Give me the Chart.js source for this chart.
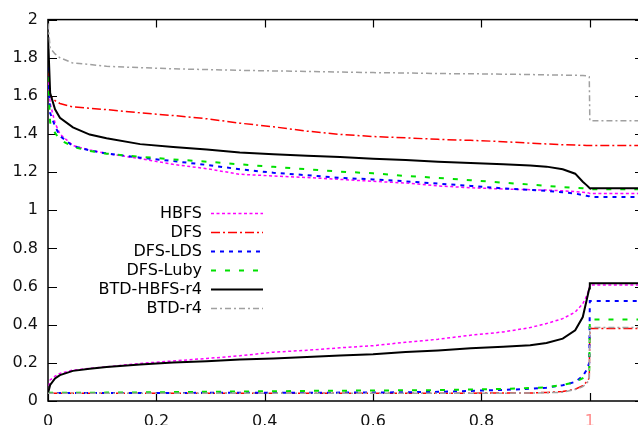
<!DOCTYPE html>
<html>
<head>
<meta charset="utf-8">
<script src="https://cdn.jsdelivr.net/npm/chart.js@4.4.0/dist/chart.umd.min.js"></script>
<style>
html, body { margin:0; padding:0; background:#fff; overflow:hidden; }
#wrap { width:650px; height:440px; }
</style>
</head>
<body>
<div id="wrap"><canvas id="c" width="650" height="440"></canvas></div>
<script>
// shared x positions (fraction of instances)
var xs = [0, 0.004, 0.013, 0.022, 0.046, 0.077, 0.108, 0.17, 0.231, 0.293, 0.354, 0.416, 0.478, 0.539,
	0.6, 0.66, 0.72, 0.78, 0.84, 0.89, 0.92, 0.95, 0.973, 0.987, 0.994, 0.999, 1.0, 1.1];

var xTicks = [0, 0.2, 0.4, 0.6, 0.8, 1];
var yTicks = [0, 0.2, 0.4, 0.6, 0.8, 1, 1.2, 1.4, 1.6, 1.8, 2];

var hbfsUpper = [1.70, 1.56, 1.458, 1.40, 1.34, 1.316, 1.298, 1.271, 1.241, 1.218, 1.189, 1.18, 1.172, 1.162,
	1.152, 1.143, 1.128, 1.118, 1.112, 1.108, 1.106, 1.102, 1.098, 1.095, 1.093, 1.09, 1.088, 1.088];
var hbfsLower = [0.05, 0.11, 0.13, 0.145, 0.162, 0.171, 0.179, 0.197, 0.21, 0.223, 0.237, 0.256, 0.266, 0.279,
	0.29, 0.308, 0.324, 0.345, 0.362, 0.385, 0.406, 0.432, 0.466, 0.51, 0.55, 0.59, 0.608, 0.608];

var dfsUpper = [1.72, 1.60, 1.575, 1.56, 1.542, 1.535, 1.528, 1.511, 1.497, 1.48, 1.457, 1.438, 1.415, 1.398,
	1.387, 1.38, 1.372, 1.367, 1.36, 1.352, 1.348, 1.344, 1.342, 1.341, 1.34, 1.34, 1.34, 1.34];
var dfsLower = [0.04, 0.04, 0.04, 0.04, 0.04, 0.04, 0.04, 0.04, 0.04, 0.04, 0.04, 0.04, 0.04, 0.04,
	0.04, 0.04, 0.041, 0.041, 0.042, 0.042, 0.045, 0.05, 0.062, 0.08, 0.1, 0.12, 0.38, 0.38];

var ldsUpper = [1.75, 1.51, 1.44, 1.39, 1.337, 1.314, 1.298, 1.276, 1.258, 1.238, 1.215, 1.197, 1.184, 1.17,
	1.162, 1.152, 1.14, 1.128, 1.115, 1.107, 1.102, 1.095, 1.088, 1.08, 1.076, 1.073, 1.07, 1.07];
var ldsLower = [0.042, 0.042, 0.042, 0.042, 0.042, 0.042, 0.042, 0.042, 0.042, 0.043, 0.043, 0.043, 0.043, 0.044,
	0.044, 0.046, 0.048, 0.053, 0.058, 0.064, 0.07, 0.083, 0.1, 0.13, 0.162, 0.2, 0.524, 0.524];

var lubyUpper = [1.70, 1.46, 1.406, 1.37, 1.333, 1.311, 1.297, 1.281, 1.267, 1.255, 1.241, 1.228, 1.215, 1.203,
	1.194, 1.18, 1.17, 1.158, 1.145, 1.135, 1.128, 1.122, 1.118, 1.116, 1.114, 1.112, 1.11, 1.11];
var lubyLower = [0.042, 0.043, 0.043, 0.043, 0.043, 0.043, 0.044, 0.045, 0.047, 0.048, 0.05, 0.051, 0.053, 0.054,
	0.055, 0.056, 0.057, 0.06, 0.063, 0.068, 0.072, 0.084, 0.098, 0.12, 0.14, 0.16, 0.427, 0.427];

var btdHbfsUpper = [1.92, 1.615, 1.53, 1.485, 1.435, 1.397, 1.378, 1.347, 1.332, 1.319, 1.303, 1.294, 1.286, 1.279,
	1.27, 1.264, 1.255, 1.248, 1.242, 1.235, 1.229, 1.215, 1.192, 1.15, 1.132, 1.118, 1.116, 1.116];
var btdHbfsLower = [0.04, 0.084, 0.118, 0.136, 0.158, 0.169, 0.178, 0.192, 0.202, 0.209, 0.218, 0.223, 0.231, 0.239,
	0.245, 0.257, 0.265, 0.276, 0.284, 0.292, 0.304, 0.327, 0.371, 0.44, 0.527, 0.59, 0.617, 0.617];

var btdUpper = [1.98, 1.85, 1.82, 1.80, 1.772, 1.765, 1.755, 1.748, 1.742, 1.738, 1.734, 1.731, 1.728, 1.725,
	1.722, 1.72, 1.717, 1.716, 1.714, 1.712, 1.71, 1.709, 1.708, 1.707, 1.706, 1.70, 1.47, 1.47];
var btdLower = [0.04, 0.04, 0.04, 0.04, 0.04, 0.04, 0.04, 0.04, 0.04, 0.04, 0.04, 0.04, 0.04, 0.04,
	0.04, 0.04, 0.04, 0.04, 0.041, 0.042, 0.043, 0.046, 0.06, 0.075, 0.092, 0.11, 0.385, 0.385];

var seriesNames = ["HBFS", "DFS", "DFS-LDS", "DFS-Luby", "BTD-HBFS-r4", "BTD-r4"];
var seriesColors = ["#ff00ff", "#ff0000", "#0000ff", "#00e000", "#000000", "#a0a0a0"];
var seriesDash = [[3, 2.5], [9, 3, 2, 3], [4, 5], [5, 9], [], [6, 3, 2, 3]];
var seriesWidth = [1.5, 1.5, 2, 2, 2, 1.5];
var seriesUpper = [hbfsUpper, dfsUpper, ldsUpper, lubyUpper, btdHbfsUpper, btdUpper];
var seriesLower = [hbfsLower, dfsLower, ldsLower, lubyLower, btdHbfsLower, btdLower];

var FONT = '"DejaVu Sans", "Liberation Sans", sans-serif';

function pts(ys)
{
	var out = [];
	for (var i = 0; i < xs.length; i++)
		out.push({x: xs[i], y: ys[i]});
	return out;
}

// chart.js draws dataset 0 last, so go backwards to keep gnuplot's stacking
var datasets = [];
for (var s = seriesNames.length - 1; s >= 0; s--)
{
	[seriesUpper[s], seriesLower[s]].forEach(function(arr) {
		datasets.push({
			label: seriesNames[s],
			data: pts(arr),
			borderColor: seriesColors[s],
			borderWidth: seriesWidth[s],
			borderDash: seriesDash[s],
			pointRadius: 0,
			tension: 0,
			fill: false
		});
	});
}

// gnuplot style frame with inward ticks on all four sides
var framePlugin = {
	id: "frame",
	beforeDatasetsDraw: function(chart)
	{
		var ctx = chart.ctx, a = chart.chartArea;
		var sx = chart.scales.x, sy = chart.scales.y;
		ctx.save();
		ctx.strokeStyle = "#000";
		ctx.lineWidth = 1.2;
		ctx.setLineDash([]);
		ctx.beginPath();
		xTicks.forEach(function(v) {
			var px = Math.round(sx.getPixelForValue(v)) + 0.5;
			ctx.moveTo(px, a.bottom); ctx.lineTo(px, a.bottom - 8);
			ctx.moveTo(px, a.top); ctx.lineTo(px, a.top + 8);
		});
		yTicks.forEach(function(v) {
			var py = Math.round(sy.getPixelForValue(v)) + 0.5;
			ctx.moveTo(a.left, py); ctx.lineTo(a.left + 9, py);
			ctx.moveTo(a.right, py); ctx.lineTo(a.right - 9, py);
		});
		ctx.stroke();
		ctx.lineWidth = 1.5;
		ctx.strokeRect(a.left, a.top, a.right - a.left, a.bottom - a.top);
		ctx.restore();
	}
};

var legendPlugin = {
	id: "gpLegend",
	afterDraw: function(chart)
	{
		var ctx = chart.ctx;
		ctx.save();
		ctx.font = "16px " + FONT;
		ctx.textAlign = "right";
		ctx.textBaseline = "middle";
		for (var i = 0; i < seriesNames.length; i++)
		{
			var y = 213 + i * 19;
			ctx.fillStyle = "#000";
			ctx.fillText(seriesNames[i], 202, y + 1);
			ctx.strokeStyle = seriesColors[i];
			ctx.lineWidth = seriesWidth[i];
			ctx.setLineDash(seriesDash[i]);
			ctx.beginPath();
			ctx.moveTo(211, y + 0.5);
			ctx.lineTo(263, y + 0.5);
			ctx.stroke();
		}
		ctx.restore();
	}
};

new Chart(document.getElementById("c"), {
	type: "line",
	data: {datasets: datasets},
	options: {
		responsive: false,
		animation: false,
		parsing: true,
		layout: {padding: {left: 0, top: 18, right: 6, bottom: 0}},
		plugins: {legend: {display: false}, tooltip: {enabled: false}},
		scales: {
			x: {
				type: "linear",
				min: 0,
				max: 1.1,
				afterBuildTicks: function(scale) { scale.ticks = xTicks.map(function(v) { return {value: v}; }); },
				afterFit: function(scale) { scale.height = 39; },
				grid: {display: false, drawTicks: false},
				border: {display: false},
				ticks: {
					padding: 11,
					maxRotation: 0,
					autoSkip: false,
					font: {family: FONT, size: 16},
					color: function(c) { return c.tick && c.tick.value === 1 ? "#ff8c8c" : "#111"; },
					callback: function(v) { return String(Math.round(v * 10) / 10); }
				}
			},
			y: {
				type: "linear",
				min: 0,
				max: 2,
				afterBuildTicks: function(scale) { scale.ticks = yTicks.map(function(v) { return {value: v}; }); },
				afterFit: function(scale) { scale.width = 48; },
				grid: {display: false, drawTicks: false},
				border: {display: false},
				ticks: {
					padding: 10,
					autoSkip: false,
					font: {family: FONT, size: 16},
					color: "#111",
					callback: function(v) { return String(Math.round(v * 10) / 10); }
				}
			}
		}
	},
	plugins: [framePlugin, legendPlugin]
});
</script>
</body>
</html>
